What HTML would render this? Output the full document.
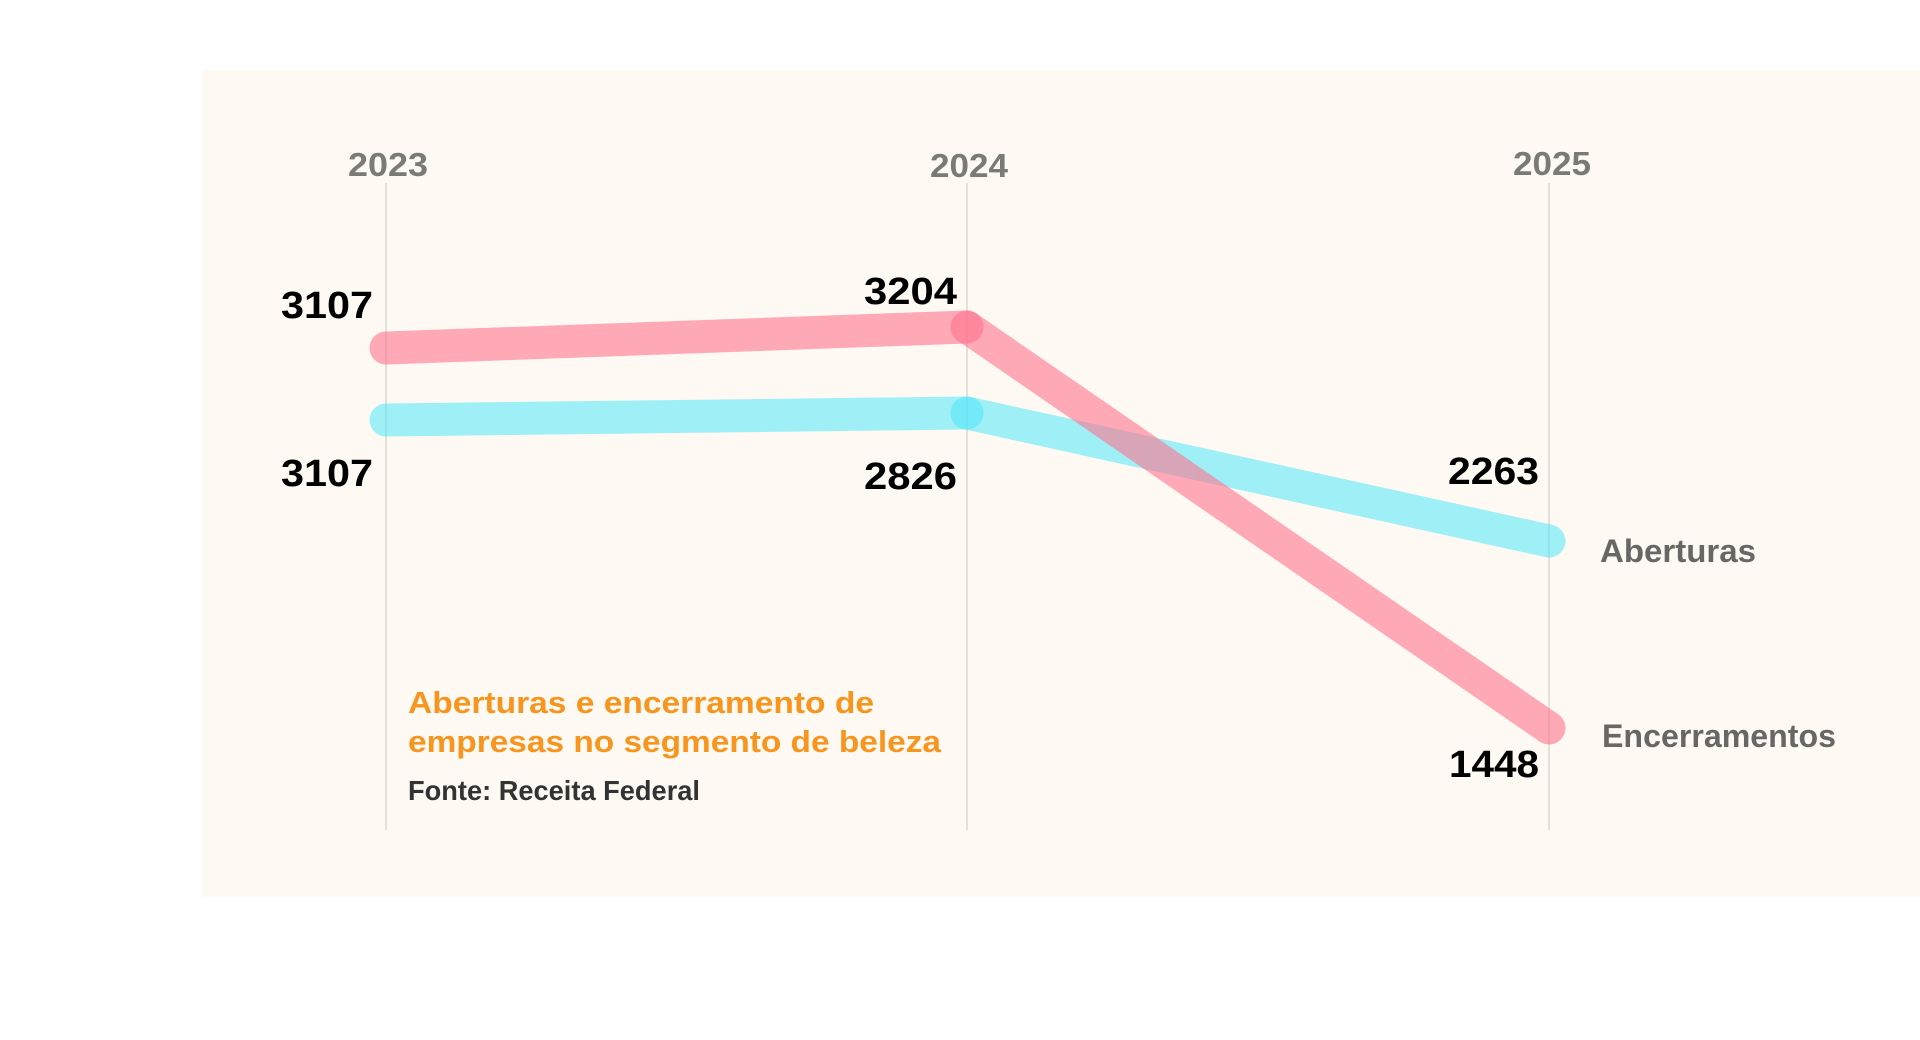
<!DOCTYPE html>
<html>
<head>
<meta charset="utf-8">
<style>
  html, body { margin: 0; padding: 0; background: #ffffff; }
  body { width: 1920px; height: 1040px; overflow: hidden; }
  svg { display: block; }
  text { font-family: "Liberation Sans", "DejaVu Sans", sans-serif; font-weight: bold; }
</style>
</head>
<body>
<svg width="1920" height="1040" viewBox="0 0 1920 1040" xmlns="http://www.w3.org/2000/svg">
  <rect x="0" y="0" width="1920" height="1040" fill="#ffffff"/>
  <rect x="202" y="70" width="1718" height="827" fill="#fefaf3"/>

  <!-- gridlines -->
  <line x1="386" y1="183" x2="386" y2="830" stroke="#d3cfc9" stroke-width="1.2"/>
  <line x1="967" y1="183" x2="967" y2="830" stroke="#d3cfc9" stroke-width="1.2"/>
  <line x1="1549" y1="183" x2="1549" y2="830" stroke="#d3cfc9" stroke-width="1.2"/>

  <!-- year labels -->
  <text x="348" y="176" font-size="33" fill="#7b7b76" textLength="80" lengthAdjust="spacingAndGlyphs">2023</text>
  <text x="930" y="177" font-size="33" fill="#7b7b76" textLength="78" lengthAdjust="spacingAndGlyphs">2024</text>
  <text x="1513" y="175" font-size="33" fill="#7b7b76" textLength="78" lengthAdjust="spacingAndGlyphs">2025</text>

  <!-- Aberturas (cyan) -->
  <g stroke="rgb(80,230,250)" stroke-opacity="0.55" stroke-width="33" stroke-linecap="round" fill="none">
    <line x1="386" y1="420" x2="967" y2="413"/>
    <line x1="967" y1="413" x2="1549" y2="541"/>
  </g>

  <!-- Encerramentos (pink) -->
  <g stroke="rgb(255,113,142)" stroke-opacity="0.6" stroke-width="33" stroke-linecap="round" fill="none">
    <line x1="386" y1="348" x2="967" y2="327"/>
    <line x1="967" y1="327" x2="1549" y2="728"/>
  </g>

  <!-- value labels -->
  <text x="281" y="318" font-size="38" fill="#000" textLength="92" lengthAdjust="spacingAndGlyphs">3107</text>
  <text x="281" y="486" font-size="38" fill="#000" textLength="92" lengthAdjust="spacingAndGlyphs">3107</text>
  <text x="864" y="304" font-size="38" fill="#000" textLength="93" lengthAdjust="spacingAndGlyphs">3204</text>
  <text x="864" y="489" font-size="38" fill="#000" textLength="93" lengthAdjust="spacingAndGlyphs">2826</text>
  <text x="1448" y="484" font-size="38" fill="#000" textLength="91" lengthAdjust="spacingAndGlyphs">2263</text>
  <text x="1449" y="777" font-size="38" fill="#000" textLength="90" lengthAdjust="spacingAndGlyphs">1448</text>

  <!-- series labels -->
  <text x="1600" y="562" font-size="32" fill="#686765" textLength="156" lengthAdjust="spacingAndGlyphs">Aberturas</text>
  <text x="1602" y="747" font-size="32" fill="#686765" textLength="234" lengthAdjust="spacingAndGlyphs">Encerramentos</text>

  <!-- title and source -->
  <text x="408" y="713" font-size="31" fill="#f7951e" textLength="466" lengthAdjust="spacingAndGlyphs">Aberturas e encerramento de</text>
  <text x="408" y="752" font-size="31" fill="#f7951e" textLength="533" lengthAdjust="spacingAndGlyphs">empresas no segmento de beleza</text>
  <text x="408" y="800" font-size="28" fill="#333333" textLength="292" lengthAdjust="spacingAndGlyphs">Fonte: Receita Federal</text>
</svg>
</body>
</html>
